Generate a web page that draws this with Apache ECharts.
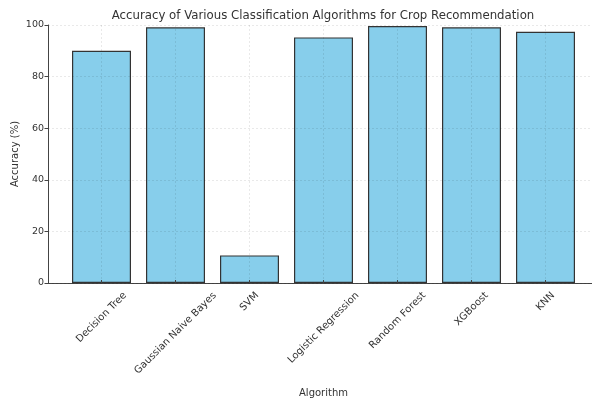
<!DOCTYPE html>
<html><head><meta charset="utf-8">
<script src="https://cdn.jsdelivr.net/npm/echarts@6/dist/echarts.min.js"></script>
<style>html,body{margin:0;padding:0;background:#fff}#c{width:592px;height:400px}</style>
</head><body><div id="c"></div>
<script>
const categories = ['Decision Tree','Gaussian Naive Bayes','SVM','Logistic Regression','Random Forest','XGBoost','KNN'];
const accuracy = [90.0, 99.1, 10.7, 95.2, 99.6, 99.1, 97.4];
const yTicks = [0, 20, 40, 60, 80, 100];

const FONT = '"DejaVu Sans", sans-serif';
const LABEL_SIZE = 10;
const cv = document.createElement('canvas').getContext('2d');
cv.font = LABEL_SIZE + 'px "DejaVu Sans"';
// emulate matplotlib's centred rotated tick labels (ECharts anchors the text end at the tick):
// an empty first line pushes the text down (local), a negative right padding pushes it right (local)
function catItem(name){
  const L = cv.measureText(name).width;
  const H = LABEL_SIZE + 1;
  const a = (L - H) / 4;
  const h1 = (L + H) / 2;
  return {value: name, textStyle: {padding: [0, -a, 0, 0], rich: {s: {height: h1, lineHeight: h1, fontSize: 1}}}};
}

const chart = echarts.init(document.getElementById('c'), null, {renderer: 'canvas'});
const gridTop = 25, gridBottom = 117;
chart.setOption({
  animation: false,
  backgroundColor: '#fff',
  title: {
    text: 'Accuracy of Various Classification Algorithms for Crop Recommendation',
    left: 318, top: 5, textAlign: 'center',
    textStyle: {fontFamily: FONT, fontSize: 11.75, fontWeight: 'normal', color: '#333'}
  },
  grid: [
    {left: 48, right: 0, top: gridTop, bottom: gridBottom, outerBoundsMode: 'none', containLabel: false},
    {left: 101.5, right: 46.5, top: gridTop, bottom: gridBottom, outerBoundsMode: 'none', containLabel: false}
  ],
  xAxis: [
    {type: 'value', gridIndex: 0, min: 0, max: 1,
     axisLine: {show: true, lineStyle: {color: '#444', width: 1}},
     axisTick: {show: false}, axisLabel: {show: false}, splitLine: {show: false}},
    {type: 'category', gridIndex: 1, boundaryGap: false, z: 5,
     data: categories.map(catItem),
     name: 'Algorithm', nameLocation: 'middle', nameGap: 105, nameMoveOverlap: false,
     nameTextStyle: {fontFamily: FONT, fontSize: 10, color: '#333'},
     axisLine: {show: false},
     axisTick: {show: true, inside: true, length: 3, alignWithLabel: true, lineStyle: {color: '#444'}},
     axisLabel: {show: true, interval: 0, rotate: 45, margin: 7,
       formatter: v => '{s| }\n' + v,
       hideOverlap: false, fontFamily: FONT, fontSize: LABEL_SIZE, color: '#333'},
     splitLine: {show: true, lineStyle: {color: 'rgba(0,0,0,0.11)', width: 0.8, type: [2, 2]}}}
  ],
  yAxis: [
    {type: 'value', gridIndex: 0, min: 0, max: 100, interval: 20, z: 5,
     name: 'Accuracy (%)', nameLocation: 'middle', nameGap: 28, nameMoveOverlap: false,
     nameTextStyle: {fontFamily: FONT, fontSize: 10, color: '#333'},
     axisLine: {show: true, lineStyle: {color: '#444', width: 1}},
     axisTick: {show: true, length: 3.5, lineStyle: {color: '#444'}},
     axisLabel: {fontFamily: FONT, fontSize: 9.5, color: '#333', margin: 4,
       formatter: v => yTicks.includes(v) ? String(v) : ''},
     splitLine: {show: true, lineStyle: {color: 'rgba(0,0,0,0.11)', width: 0.8, type: [2, 2]}}},
    {type: 'value', gridIndex: 1, min: 0, max: 100, show: false}
  ],
  series: [{
    type: 'bar', xAxisIndex: 1, yAxisIndex: 1, clip: false,
    data: accuracy, barWidth: 59,
    itemStyle: {color: '#87CEEB', borderColor: '#333', borderWidth: 1.2}
  }]
});
</script></body></html>
